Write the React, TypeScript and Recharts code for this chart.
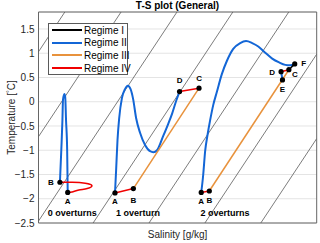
import React from 'react';
import {
  ComposedChart,
  Line,
  Scatter,
  XAxis,
  YAxis,
  CartesianGrid,
  ReferenceArea,
} from 'recharts';

const FONT = "'Liberation Sans', Arial, Helvetica, sans-serif";

const S_MIN = 0;
const S_MAX = 10;
const T_MIN = -2.5;
const T_MAX = 1.85;
const tempTicks = [-2.5, -2, -1.5, -1, -0.5, 0, 0.5, 1, 1.5];

const regimeNames = ['Regime I', 'Regime II', 'Regime III', 'Regime IV'];
const regimeColors = ['#000000', '#1366d6', '#e8923c', '#f00000'];

// density contours, T = isoSlope * S + level
const isoSlope = 0.866;
const isoLevels = [1.03, -0.72, -2.46, -4.2, -5.94, -7.68, -9.42];

// 0 overturns
const spike0S = [0.77, 0.82, 0.86, 0.88, 0.93, 0.96, 0.99, 1.03, 1.05];
const spike0T = [-1.66, -0.99, -0.38, 0.04, 0.16, 0.1, -0.38, -0.99, -1.87];
const loop0S = [0.77, 1.21, 1.68, 1.92, 1.75, 1.45, 1.21, 1.05];
const loop0T = [-1.66, -1.66, -1.68, -1.73, -1.79, -1.82, -1.86, -1.87];

// 1 overturn
const curve1S = [2.75, 2.79, 2.84, 2.9, 3.0, 3.11, 3.21, 3.31, 3.4, 3.51, 3.65, 3.83, 4.01, 4.13, 4.26, 4.48, 4.66, 4.8, 4.95, 5.07];
const curve1T = [-1.88, -1.41, -0.79, -0.34, 0.08, 0.26, 0.33, 0.26, 0.06, -0.34, -0.64, -0.89, -1.02, -1.04, -1.0, -0.71, -0.46, -0.25, 0.02, 0.21];

// 2 overturns
const curve2S = [5.85, 5.92, 5.99, 6.08, 6.17, 6.28, 6.41, 6.59, 6.77, 7.0, 7.25, 7.46, 7.68, 7.9, 8.15, 8.4, 8.65, 8.87, 9.05, 9.21];
const curve2T = [-1.87, -1.51, -1.02, -0.67, -0.38, -0.07, 0.2, 0.57, 0.84, 1.09, 1.21, 1.25, 1.21, 1.14, 1.01, 0.89, 0.81, 0.76, 0.75, 0.78];

// marked points
const pointNames = ['A', 'B', 'A', 'B', 'C', 'D', 'A', 'B', 'C', 'D', 'E', 'F'];
const pointS = [1.05, 0.77, 2.75, 3.41, 5.77, 5.07, 5.85, 6.14, 9.0, 8.72, 8.77, 9.21];
const pointT = [-1.87, -1.66, -1.88, -1.79, 0.28, 0.21, -1.87, -1.84, 0.66, 0.62, 0.45, 0.78];

// straight pieces between marked points (indices)
const regime1Pieces = [[8, 11]];
const regime2Pieces = [[9, 10]];
const regime3Pieces = [[3, 4], [7, 8]];
const regime4Pieces = [[2, 3], [5, 4], [6, 7], [9, 8]];

const overturnText = ['0 overturns', '1 overturn', '2 overturns'];
const overturnS = [1.21, 3.58, 6.7];
const overturnT = [-2.29, -2.29, -2.29];

// label offsets in px for each marked point
const labelOffsets = [
  [0, 9], [-9, 0], [0, 8.5], [0, 11.5], [0, -9.5], [0, -11.5],
  [0, 9], [0, 10], [6, 5], [-9, 1], [0, 10], [9, 0],
];

const zip = (s: number[], t: number[]) => s.map((v, i) => ({ s: v, t: t[i] }));

const pointData = pointNames.map((name, i) => ({ name, s: pointS[i], t: pointT[i], i }));
const piece = ([a, b]: number[]) => [pointData[a], pointData[b]];

const isoSegment = (level: number) => {
  const a = Math.max((T_MIN - level) / isoSlope, S_MIN);
  const b = Math.min((T_MAX - level) / isoSlope, S_MAX);
  if (a >= b) return [];
  return [
    { s: a, t: isoSlope * a + level },
    { s: b, t: isoSlope * b + level },
  ];
};

const annotationData = overturnText.map((text, i) => ({ text, s: overturnS[i], t: overturnT[i] }));

const PointMark = (p: any) => {
  const [dx, dy] = labelOffsets[p.payload.i];
  return (
    <g>
      <circle cx={p.cx} cy={p.cy} r={2.6} fill="#000" />
      <text
        x={p.cx + dx}
        y={p.cy + dy}
        textAnchor="middle"
        dominantBaseline="central"
        fontSize={8}
        fontWeight="bold"
        fill="#000"
      >
        {p.payload.name}
      </text>
    </g>
  );
};

const AnnotationMark = (p: any) => (
  <text x={p.cx} y={p.cy} textAnchor="middle" dominantBaseline="central" fontSize={9} fontWeight="bold" fill="#000">
    {p.payload.text}
  </text>
);

const TempLabel = (p: any) => {
  const vb = p.viewBox || { x: 0, y: 12, width: 38.5, height: 211 };
  const x = vb.x + 15;
  const y = vb.y + vb.height / 2;
  return (
    <text transform={`translate(${x},${y}) rotate(-90)`} textAnchor="middle" fontSize={10} fill="#262626">
      Temperature [<tspan fontSize={7} dy={-3}>°</tspan>
      <tspan dy={3}>C]</tspan>
    </text>
  );
};

const LegendBox = () => (
  <div
    style={{
      position: 'absolute',
      left: 48,
      top: 22.5,
      width: 80,
      height: 52,
      boxSizing: 'border-box',
      border: '1px solid #5a5a5a',
      background: '#fff',
      fontSize: 10,
      color: '#000',
    }}
  >
    {regimeNames.map((name, i) => (
      <div
        key={name}
        style={{ position: 'absolute', left: 2.7, top: 0.5 + i * 12.7, height: 12, display: 'flex', alignItems: 'center', whiteSpace: 'nowrap' }}
      >
        <span style={{ display: 'inline-block', width: 30, height: 2, background: regimeColors[i] }} />
        <span style={{ marginLeft: 2.3 }}>{name}</span>
      </div>
    ))}
  </div>
);

export default function App() {
  const lineProps = { dataKey: 't', dot: false, activeDot: false, isAnimationActive: false } as const;
  return (
    <div style={{ position: 'absolute', left: 0, top: 0, width: 320, height: 243, background: '#fff', fontFamily: FONT }}>
      <div
        style={{
          position: 'absolute',
          left: 38.5,
          top: 0,
          width: 278,
          textAlign: 'center',
          fontSize: 10,
          fontWeight: 'bold',
          lineHeight: '12px',
          color: '#000',
        }}
      >
        T-S plot (General)
      </div>
      <ComposedChart width={320} height={243} margin={{ top: 12, right: 3.3, bottom: 0, left: 0 }} style={{ fontFamily: FONT }}>
        <CartesianGrid vertical={false} stroke="#e4e4e4" />
        <XAxis
          type="number"
          dataKey="s"
          domain={[S_MIN, S_MAX]}
          allowDataOverflow
          tick={false}
          tickLine={false}
          axisLine={false}
          height={20}
          label={{ value: 'Salinity [g/kg]', position: 'insideBottom', offset: 5, fill: '#262626', fontSize: 10 }}
        />
        <YAxis
          type="number"
          dataKey="t"
          domain={[T_MIN, T_MAX]}
          ticks={tempTicks}
          interval={0}
          allowDataOverflow
          width={38.5}
          tickLine={false}
          axisLine={false}
          tickSize={0}
          tickMargin={4}
          tick={{ fontSize: 10, fill: '#262626' }}
          tickFormatter={(v: number) => String(v).replace('-', '\u2212')}
          label={<TempLabel />}
        />
        <YAxis
          yAxisId="leftTicks"
          orientation="left"
          mirror
          type="number"
          domain={[T_MIN, T_MAX]}
          ticks={tempTicks}
          interval={0}
          allowDataOverflow
          width={0}
          tick={false}
          tickSize={2.5}
          axisLine={false}
          tickLine={{ stroke: '#555' }}
        />
        <YAxis
          yAxisId="rightTicks"
          orientation="right"
          mirror
          type="number"
          domain={[T_MIN, T_MAX]}
          ticks={tempTicks}
          interval={0}
          allowDataOverflow
          width={0}
          tick={false}
          tickSize={2.5}
          axisLine={false}
          tickLine={{ stroke: '#555' }}
        />
        <ReferenceArea x1={S_MIN} x2={S_MAX} y1={T_MIN} y2={T_MAX} fill="none" stroke="#666" strokeWidth={1} ifOverflow="visible" />

        {isoLevels.map((lv, i) => (
          <Line key={`iso${i}`} {...lineProps} data={isoSegment(lv)} type="linear" stroke="#5a5a5a" strokeWidth={0.8} />
        ))}

        <Line {...lineProps} data={zip(spike0S, spike0T)} type="monotoneX" stroke={regimeColors[1]} strokeWidth={2} />
        <Line {...lineProps} data={zip(curve1S, curve1T)} type="monotoneX" stroke={regimeColors[1]} strokeWidth={2} />
        <Line {...lineProps} data={zip(curve2S, curve2T)} type="monotoneX" stroke={regimeColors[1]} strokeWidth={2} />
        {regime2Pieces.map((pc, i) => (
          <Line key={`b${i}`} {...lineProps} data={piece(pc)} type="linear" stroke={regimeColors[1]} strokeWidth={2} />
        ))}
        {regime3Pieces.map((pc, i) => (
          <Line key={`o${i}`} {...lineProps} data={piece(pc)} type="linear" stroke={regimeColors[2]} strokeWidth={1.5} />
        ))}
        <Line {...lineProps} data={zip(loop0S, loop0T)} type="natural" stroke={regimeColors[3]} strokeWidth={1.6} />
        {regime4Pieces.map((pc, i) => (
          <Line key={`r${i}`} {...lineProps} data={piece(pc)} type="linear" stroke={regimeColors[3]} strokeWidth={1.5} />
        ))}
        {regime1Pieces.map((pc, i) => (
          <Line key={`k${i}`} {...lineProps} data={piece(pc)} type="linear" stroke={regimeColors[0]} strokeWidth={1.5} />
        ))}

        <Scatter data={pointData} dataKey="t" isAnimationActive={false} shape={(p: any) => <PointMark {...p} />} />
        <Scatter data={annotationData} dataKey="t" isAnimationActive={false} shape={(p: any) => <AnnotationMark {...p} />} />
      </ComposedChart>
      <LegendBox />
    </div>
  );
}
